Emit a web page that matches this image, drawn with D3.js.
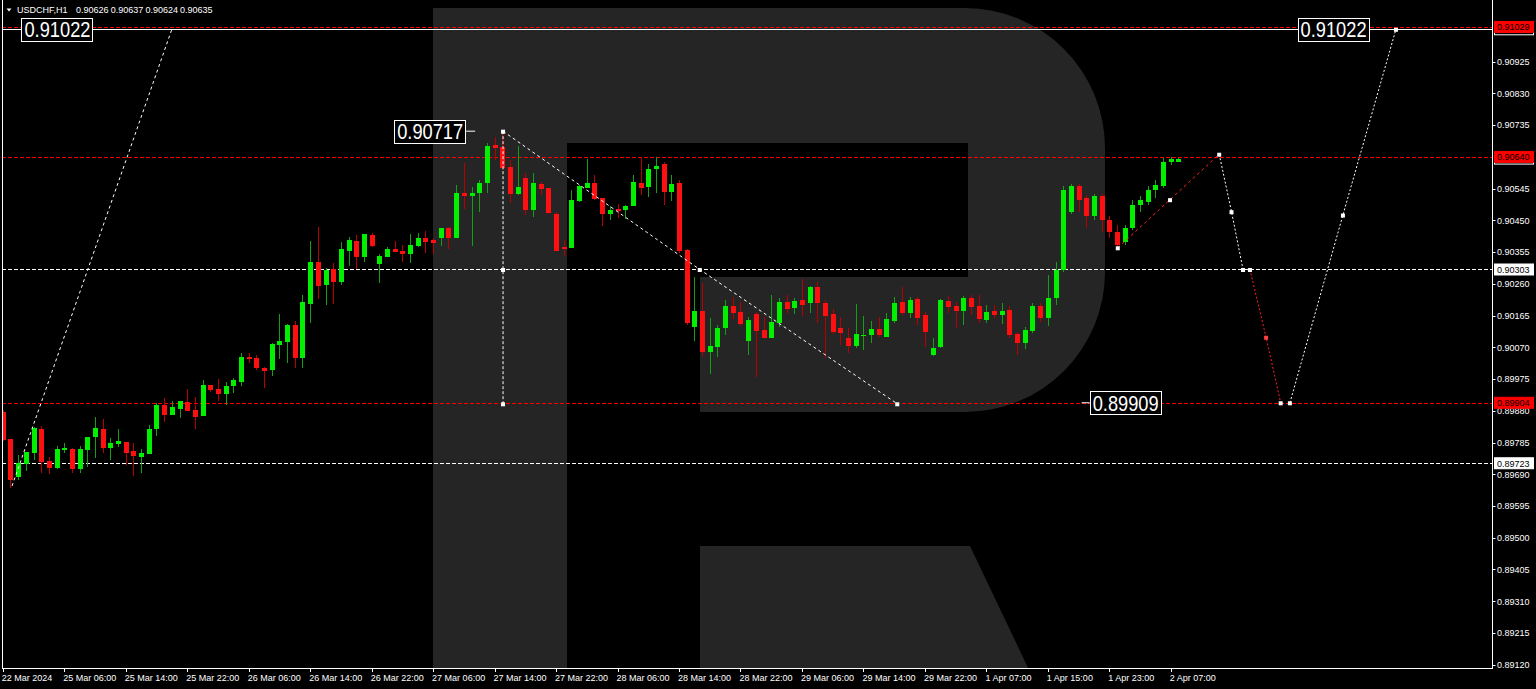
<!DOCTYPE html>
<html><head><meta charset="utf-8">
<script src="https://cdn.jsdelivr.net/npm/d3@7"></script>
<style>
html,body{margin:0;padding:0;background:#000;overflow:hidden}
svg{display:block}
text{font-family:"Liberation Sans",Arial,sans-serif}
</style></head><body>
<svg id="c" width="1536" height="689"></svg>
<script>
// ---------------- data ----------------
const symbolTitle = "USDCHF,H1";
const titleValues = ["0.90626","0.90637","0.90624","0.90635"];

const openP = [
0.89877,0.89796,0.89682,0.89721,0.89754,0.89826,0.89730,0.89709,0.89763,0.89766,
0.89706,0.89763,0.89802,0.89826,0.89769,0.89781,0.89787,0.89760,0.89742,0.89751,
0.89826,0.89898,0.89868,0.89886,0.89907,0.89883,0.89865,0.89958,0.89946,0.89931,
0.89955,0.89967,0.90041,0.90038,0.90009,0.90003,0.90077,0.90086,0.90137,0.90038,
0.90200,0.90326,0.90257,0.90305,0.90266,0.90359,0.90389,0.90341,0.90406,0.90320,
0.90341,0.90365,0.90359,0.90350,0.90374,0.90398,0.90392,0.90398,0.90426,0.90398,
0.90531,0.90523,0.90531,0.90561,0.90676,0.90669,0.90610,0.90529,0.90578,0.90481,
0.90559,0.90546,0.90468,0.90369,0.90367,0.90509,0.90548,0.90563,0.90517,0.90468,
0.90485,0.90481,0.90493,0.90563,0.90549,0.90603,0.90618,0.90536,0.90563,0.90360,
0.90132,0.90180,0.90057,0.90070,0.90127,0.90194,0.90177,0.90090,0.90169,0.90122,
0.90099,0.90142,0.90207,0.90187,0.90212,0.90202,0.90250,0.90202,0.90169,0.90127,
0.90097,0.90074,0.90106,0.90107,0.90124,0.90102,0.90150,0.90205,0.90174,0.90214,
0.90167,0.90047,0.90070,0.90210,0.90194,0.90180,0.90217,0.90194,0.90152,0.90180,
0.90167,0.90182,0.90110,0.90084,0.90120,0.90194,0.90157,0.90218,0.90302,0.90476,
0.90553,0.90517,0.90463,0.90523,0.90451,0.90415,0.90386,0.90428,0.90496,0.90505,
0.90541,0.90553,0.90625,0.90626];
const highP = [
0.89883,0.89797,0.89748,0.89757,0.89832,0.89835,0.89742,0.89775,0.89784,0.89769,
0.89775,0.89802,0.89862,0.89856,0.89799,0.89826,0.89787,0.89784,0.89766,0.89838,
0.89904,0.89919,0.89910,0.89910,0.89946,0.89922,0.89973,0.89958,0.89976,0.89967,
0.89979,0.90053,0.90053,0.90047,0.90012,0.90083,0.90170,0.90140,0.90149,0.90227,
0.90389,0.90430,0.90308,0.90323,0.90386,0.90400,0.90406,0.90409,0.90412,0.90350,
0.90371,0.90389,0.90377,0.90409,0.90412,0.90418,0.90398,0.90426,0.90429,0.90556,
0.90623,0.90551,0.90571,0.90683,0.90701,0.90717,0.90631,0.90673,0.90591,0.90591,
0.90566,0.90548,0.90476,0.90392,0.90541,0.90556,0.90633,0.90586,0.90517,0.90493,
0.90499,0.90496,0.90586,0.90639,0.90619,0.90639,0.90624,0.90586,0.90571,0.90365,
0.90282,0.90264,0.90157,0.90137,0.90212,0.90220,0.90207,0.90162,0.90177,0.90162,
0.90227,0.90217,0.90227,0.90217,0.90274,0.90254,0.90267,0.90212,0.90184,0.90160,
0.90127,0.90200,0.90164,0.90150,0.90162,0.90172,0.90222,0.90250,0.90220,0.90220,
0.90177,0.90097,0.90214,0.90224,0.90207,0.90224,0.90227,0.90227,0.90197,0.90197,
0.90202,0.90194,0.90117,0.90130,0.90204,0.90204,0.90287,0.90326,0.90553,0.90559,
0.90559,0.90526,0.90529,0.90529,0.90463,0.90436,0.90436,0.90511,0.90523,0.90553,
0.90571,0.90637,0.90640,0.90637];
const lowP = [
0.89790,0.89650,0.89673,0.89700,0.89733,0.89694,0.89691,0.89706,0.89754,0.89694,
0.89694,0.89712,0.89739,0.89754,0.89733,0.89772,0.89718,0.89685,0.89694,0.89751,
0.89805,0.89847,0.89868,0.89859,0.89880,0.89826,0.89865,0.89937,0.89910,0.89898,
0.89934,0.89955,0.90024,0.90003,0.89949,0.89985,0.90035,0.90024,0.90009,0.90009,
0.90143,0.90215,0.90197,0.90200,0.90257,0.90314,0.90305,0.90326,0.90371,0.90263,
0.90341,0.90356,0.90326,0.90323,0.90371,0.90353,0.90350,0.90372,0.90364,0.90398,
0.90483,0.90372,0.90476,0.90531,0.90631,0.90601,0.90501,0.90526,0.90466,0.90461,
0.90526,0.90469,0.90357,0.90342,0.90367,0.90506,0.90546,0.90511,0.90432,0.90451,
0.90456,0.90453,0.90493,0.90526,0.90519,0.90531,0.90496,0.90509,0.90352,0.90137,
0.90090,0.90044,0.89991,0.90040,0.90107,0.90154,0.90134,0.90047,0.89981,0.90097,
0.90099,0.90132,0.90172,0.90169,0.90164,0.90172,0.90142,0.90037,0.90110,0.90077,
0.90054,0.90067,0.90062,0.90084,0.90102,0.90102,0.90144,0.90167,0.90157,0.90137,
0.90072,0.90044,0.90067,0.90172,0.90127,0.90137,0.90167,0.90142,0.90144,0.90157,
0.90140,0.90097,0.90047,0.90064,0.90112,0.90147,0.90134,0.90197,0.90296,0.90470,
0.90476,0.90428,0.90451,0.90415,0.90397,0.90362,0.90377,0.90421,0.90476,0.90496,
0.90517,0.90547,0.90616,0.90624];
const closeP = [
0.89793,0.89673,0.89724,0.89757,0.89829,0.89727,0.89709,0.89766,0.89769,0.89706,
0.89766,0.89802,0.89829,0.89769,0.89784,0.89790,0.89754,0.89745,0.89754,0.89826,
0.89898,0.89868,0.89892,0.89910,0.89880,0.89862,0.89958,0.89943,0.89931,0.89955,
0.89973,0.90041,0.90035,0.90009,0.90000,0.90080,0.90089,0.90137,0.90038,0.90206,
0.90326,0.90254,0.90302,0.90266,0.90365,0.90392,0.90341,0.90409,0.90374,0.90344,
0.90365,0.90356,0.90350,0.90377,0.90398,0.90386,0.90383,0.90426,0.90397,0.90533,
0.90523,0.90531,0.90563,0.90673,0.90668,0.90607,0.90529,0.90551,0.90481,0.90563,
0.90543,0.90471,0.90357,0.90364,0.90511,0.90553,0.90563,0.90513,0.90469,0.90481,
0.90479,0.90493,0.90566,0.90548,0.90603,0.90613,0.90536,0.90559,0.90357,0.90142,
0.90180,0.90057,0.90074,0.90127,0.90194,0.90174,0.90140,0.90152,0.90119,0.90099,
0.90145,0.90207,0.90184,0.90210,0.90197,0.90250,0.90202,0.90164,0.90115,0.90112,
0.90074,0.90110,0.90108,0.90124,0.90107,0.90154,0.90202,0.90172,0.90212,0.90157,
0.90115,0.90067,0.90212,0.90192,0.90180,0.90217,0.90190,0.90154,0.90177,0.90167,
0.90180,0.90107,0.90084,0.90122,0.90194,0.90157,0.90217,0.90302,0.90542,0.90553,
0.90511,0.90463,0.90523,0.90451,0.90415,0.90377,0.90428,0.90496,0.90511,0.90541,
0.90556,0.90625,0.90634,0.90635];

const xTickLabels = ["22 Mar 2024","25 Mar 06:00","25 Mar 14:00","25 Mar 22:00","26 Mar 06:00",
"26 Mar 14:00","26 Mar 22:00","27 Mar 06:00","27 Mar 14:00","27 Mar 22:00","28 Mar 06:00",
"28 Mar 14:00","28 Mar 22:00","29 Mar 06:00","29 Mar 14:00","29 Mar 22:00","1 Apr 07:00",
"1 Apr 15:00","1 Apr 23:00","2 Apr 07:00"];
const xTickEvery = 8;

const yTickValues = [0.89120,0.89215,0.89310,0.89405,0.89500,0.89595,0.89690,0.89785,0.89880,
0.89975,0.90070,0.90165,0.90260,0.90355,0.90450,0.90545,0.90735,0.90830,0.90925];

const redLevels = [0.91029,0.90640,0.89904];
const whiteDashLevels = [0.90303,0.89723];
const solidLevel = 0.91022;
const bidLevel = 0.90635;

// forecast paths: [bar index, price]
const pathRise0 = [[1.2,0.89655],[22.0,0.91022]];
const pathVertical = [[65.1,0.90717],[65.1,0.90303],[65.1,0.89901]];
const pathDrop = [[65.1,0.90717],[90.7,0.90303],[116.4,0.89901]];
const pathRedUp = [[145.1,0.90368],[151.9,0.90512],[158.3,0.90648]];
const pathWhiteDown = [[158.3,0.90648],[159.9,0.90476],[161.4,0.90303]];
const pathRedDown = [[162.3,0.90303],[164.4,0.90100],[166.3,0.89904]];
const pathWhiteUp = [[167.5,0.89904],[174.4,0.90466],[181.3,0.91022]];

const bigLabels = [
  {text:"0.91022", idx:2.43, price:0.91022, side:"right"},
  {text:"0.91022", idx:168.5, price:0.91022, side:"right"},
  {text:"0.90717", idx:60.3, price:0.90717, side:"left"},
  {text:"0.89909", idx:140.4, price:0.89904, side:"right"}
];

// ---------------- drawing ----------------
const W = 1536, H = 689;
const P = {left:2, right:1492, top:0, bottom:668.5};
const x = d3.scaleLinear().domain([0,152]).range([2.8,1170.8]);
const y = d3.scaleLinear().domain([0.89120,0.90925]).range([664.7,61.7]);

const svg = d3.select("#c");
svg.append("rect").attr("width",W).attr("height",H).attr("fill","#000");

svg.append("defs").append("clipPath").attr("id","plot")
  .append("rect").attr("x",P.left).attr("y",P.top).attr("width",P.right-P.left).attr("height",P.bottom-P.top);

const plot = svg.append("g").attr("clip-path","url(#plot)");

// watermark logo
const wm = plot.append("g").attr("fill","#252525");
wm.append("path").attr("d","M433,8 H965 A140,140 0 0 1 1105,148 V272 A140,140 0 0 1 965,412 H700 V277 H968 V143 H567 V672 H433 Z");
wm.append("path").attr("d","M700,546 H970 L1030,672 H700 Z");

// level lines
const lv = plot.append("g").attr("shape-rendering","crispEdges");
lv.selectAll("line.red").data(redLevels).join("line")
  .attr("x1",P.left).attr("x2",P.right)
  .attr("y1",d=>Math.round(y(d))+0.5).attr("y2",d=>Math.round(y(d))+0.5)
  .attr("stroke","#ff0000").attr("stroke-dasharray","4,2");
lv.selectAll("line.wd").data(whiteDashLevels).join("line")
  .attr("x1",P.left).attr("x2",P.right)
  .attr("y1",d=>Math.round(y(d))+0.5).attr("y2",d=>Math.round(y(d))+0.5)
  .attr("stroke","#ffffff").attr("stroke-dasharray","4,2");
lv.append("line").attr("x1",P.left).attr("x2",P.right)
  .attr("y1",Math.round(y(solidLevel))+0.5).attr("y2",Math.round(y(solidLevel))+0.5)
  .attr("stroke","#ffffff");

// candles
const idx = d3.range(openP.length);
const bw = 5;
const cg = plot.append("g").attr("shape-rendering","crispEdges");
cg.selectAll("line.w").data(idx).join("line")
  .attr("x1",i=>Math.round(x(i))+0.5).attr("x2",i=>Math.round(x(i))+0.5)
  .attr("y1",i=>y(highP[i])).attr("y2",i=>y(lowP[i]))
  .attr("stroke",i=>closeP[i]>=openP[i]?"#14a014":"#b80000").attr("stroke-width",1);
cg.selectAll("rect.b").data(idx).join("rect")
  .attr("x",i=>Math.round(x(i))-2)
  .attr("width",bw)
  .attr("y",i=>y(Math.max(openP[i],closeP[i])))
  .attr("height",i=>Math.max(1.5,Math.abs(y(openP[i])-y(closeP[i]))))
  .attr("fill",i=>closeP[i]>=openP[i]?"#00f000":"#ff1010");

// forecast lines
const line = d3.line().x(d=>x(d[0])).y(d=>y(d[1]));
function fpath(pts,color,dash){
  plot.append("path").attr("d",line(pts)).attr("fill","none")
    .attr("stroke",color).attr("stroke-width",1).attr("stroke-dasharray",dash);
}
fpath(pathRise0,"#ffffff","3,3");
fpath(pathVertical,"#ffffff","3,2");
fpath(pathDrop,"#ffffff","3,3");
fpath(pathRedUp,"#ff2020","3,3");
fpath(pathWhiteDown,"#ffffff","2,2");
fpath(pathRedDown,"#ff2020","2,2");
fpath(pathWhiteUp,"#ffffff","2,2");
const markers = [
  ...pathVertical.map(p=>[p,"#fff"]), [pathDrop[1],"#fff"], [pathDrop[2],"#fff"],
  [pathRedUp[0],"#fff"],[pathRedUp[1],"#fff"],[pathRedUp[2],"#fff"],
  [pathWhiteDown[1],"#fff"],[pathWhiteDown[2],"#fff"],
  [pathRedDown[0],"#fff"],[pathRedDown[1],"#ff4040"],[pathRedDown[2],"#fff"],
  [pathWhiteUp[0],"#fff"],[pathWhiteUp[1],"#fff"],[pathWhiteUp[2],"#fff"]
];
plot.selectAll("rect.mk").data(markers).join("rect")
  .attr("x",d=>x(d[0][0])-2).attr("y",d=>y(d[0][1])-1.5)
  .attr("width",4).attr("height",4).attr("fill",d=>d[1]);

// big labels
bigLabels.forEach(b=>{
  const ax = x(b.idx), ay = y(b.price);
  let bx;
  if(b.side==="right"){ bx = ax; }
  else { bx = ax - 72; }
  if(b.text==="0.90717"){ svg.append("line").attr("x1",bx+72).attr("x2",bx+81).attr("y1",ay).attr("y2",ay).attr("stroke","#fff"); }
  if(b.text==="0.89909"){ svg.append("line").attr("x1",bx).attr("x2",bx+8).attr("y1",ay).attr("y2",ay).attr("stroke","#fff"); bx += 8; }
  svg.append("rect").attr("x",Math.round(bx)+0.5).attr("y",Math.round(ay-11.5)+0.5).attr("width",71).attr("height",23)
    .attr("fill","#000").attr("stroke","#fff");
  svg.append("text").attr("x",bx+36).attr("y",ay+8).attr("text-anchor","middle")
    .attr("font-size",22).attr("fill","#fff").attr("textLength",66).attr("lengthAdjust","spacingAndGlyphs")
    .text(b.text);
});

// frame
svg.append("line").attr("x1",P.left+0.5).attr("x2",P.left+0.5).attr("y1",0).attr("y2",P.bottom).attr("stroke","#fff");
svg.append("line").attr("x1",P.right+0.5).attr("x2",P.right+0.5).attr("y1",0).attr("y2",P.bottom+0.5).attr("stroke","#fff");
svg.append("line").attr("x1",P.left).attr("x2",P.right+1).attr("y1",P.bottom).attr("y2",P.bottom).attr("stroke","#fff");

// y axis
const ya = svg.append("g").attr("transform",`translate(${P.right+0.5},0)`);
ya.selectAll("line").data(yTickValues).join("line")
  .attr("x1",0).attr("x2",3).attr("y1",d=>Math.round(y(d))+0.5).attr("y2",d=>Math.round(y(d))+0.5).attr("stroke","#fff");
ya.selectAll("text").data(yTickValues).join("text")
  .attr("x",4.5).attr("y",d=>y(d)+3.3).attr("font-size",9).attr("fill","#fff")
  .text(d=>d3.format(".5f")(d));

// price tags on the axis
function tag(v,fill,stroke,tcol){
  const cy = y(v);
  svg.append("rect").attr("x",P.right+2.5).attr("y",cy-5.5).attr("width",39).attr("height",11)
    .attr("fill",fill).attr("stroke",stroke);
  svg.append("text").attr("x",P.right+5).attr("y",cy+3.3).attr("font-size",9).attr("fill",tcol).text(d3.format(".5f")(v));
}
tag(solidLevel,"#000","#fff","#fff");
tag(bidLevel,"#000","#fff","#fff");
whiteDashLevels.forEach(v=>tag(v,"#fff","#fff","#000"));
redLevels.forEach(v=>tag(v,"#ff0000","#ff0000","#000"));

// x axis
const xa = svg.append("g");
const xt = xTickLabels.map((t,k)=>({t, i:k*xTickEvery}));
xa.selectAll("line").data(xt).join("line")
  .attr("x1",d=>Math.round(x(d.i))+0.5).attr("x2",d=>Math.round(x(d.i))+0.5)
  .attr("y1",P.bottom).attr("y2",P.bottom+3.5).attr("stroke","#fff");
xa.selectAll("text").data(xt).join("text")
  .attr("x",d=>x(d.i)-1).attr("y",681).attr("font-size",9).attr("fill","#fff").text(d=>d.t);

// title
svg.append("path").attr("d","M6.5,8.5 L11.5,8.5 L9,11.5 Z").attr("fill","#fff");
const tg = svg.append("g").attr("font-size",9).attr("fill","#fff");
tg.append("text").attr("x",17).attr("y",13).text(symbolTitle);
tg.selectAll("text.v").data(titleValues).join("text")
  .attr("x",(d,k)=>76+k*34.7).attr("y",13).text(d=>d);
</script>
</body></html>
